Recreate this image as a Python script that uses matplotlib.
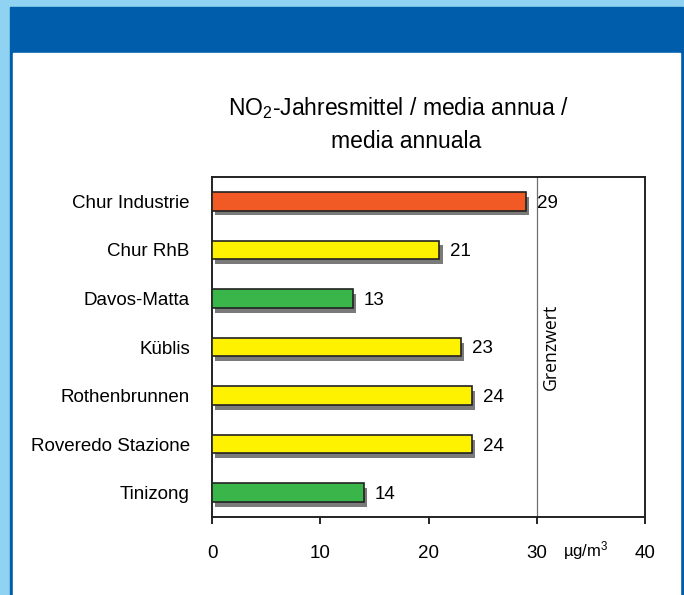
import numpy as np
import matplotlib.pyplot as plt
from matplotlib.patches import Rectangle
import matplotlib.patheffects as pe

plt.rcParams['font.family'] = ['Liberation Sans', 'DejaVu Sans']
plt.rcParams['mathtext.default'] = 'regular'

# ---------------- data ----------------
stations = ['Chur Industrie', 'Chur RhB', 'Davos-Matta', 'Küblis',
            'Rothenbrunnen', 'Roveredo Stazione', 'Tinizong']
no2 = [29, 21, 13, 23, 24, 24, 14]
bar_colors = ['#F15A24', '#FFF200', '#39B54A', '#FFF200',
              '#FFF200', '#FFF200', '#39B54A']
limit = 30
xticks = [0, 10, 20, 30, 40]

W, H = 684, 595
fig = plt.figure(figsize=(W / 100, H / 100), dpi=100)
fig.patch.set_facecolor('#8FD2F1')


def box(x0, y0, x1, y1, color):
    # pixel box (top-left origin) -> figure fraction rectangle
    fig.patches.append(Rectangle((x0 / W, 1 - y1 / H), (x1 - x0) / W, (y1 - y0) / H,
                                 transform=fig.transFigure, color=color, zorder=-5))


box(9.5, 7, 683, 595, '#005DAB')     # blue frame + header
box(12.5, 53, 679.5, 595, 'white')   # white panel

# ---------------- axes ----------------
ax = fig.add_axes([212 / W, 1 - 517 / H, (645 - 212) / W, (517 - 177) / H])
ax.set_facecolor('white')
y = np.arange(len(stations))

bars = ax.barh(y, no2, height=0.38, color=bar_colors, edgecolor='#222222',
               linewidth=1.2, zorder=3)
for b in bars:
    b.set_path_effects([pe.SimplePatchShadow(offset=(2.5, -3.5), shadow_rgbFace='#7a7a7a', alpha=1),
                        pe.Normal()])

for yi, v in zip(y, no2):
    ax.text(v + 1.0, yi + 0.04, str(v), va='center', ha='left', fontsize=13.5, zorder=4)

ax.axvline(limit, color='#707070', lw=0.9, zorder=1)
ax.text(limit + 1.3, 3.0, 'Grenzwert', rotation=90, ha='center', va='center',
        fontsize=12.7, family=['Open Sans', 'DejaVu Sans'])

ax.set_xlim(0, 40)
ax.set_ylim(len(stations) - 0.5, -0.5)
ax.set_xticks(xticks)
ax.set_yticks(y)
ax.set_yticklabels(stations)
ax.tick_params(axis='y', length=0, pad=16, labelsize=13.5)
ax.tick_params(axis='x', length=5, width=1.2, pad=15, labelsize=13.5, direction='out')
for s in ax.spines.values():
    s.set_linewidth(1.4)
    s.set_color('#222222')

ax.text(34.5, -0.1, r'µg/m$^3$', transform=ax.get_xaxis_transform(),
        ha='center', va='center', fontsize=12)

fig.text(399 / W, 1 - 108 / H, r'NO$_2$-Jahresmittel / media annua /', ha='center',
         va='center', fontsize=16.5)
fig.text(406 / W, 1 - 142 / H, 'media annuala', ha='center', va='center', fontsize=16.5)

fig.savefig('out.png', dpi=100, facecolor=fig.get_facecolor())
